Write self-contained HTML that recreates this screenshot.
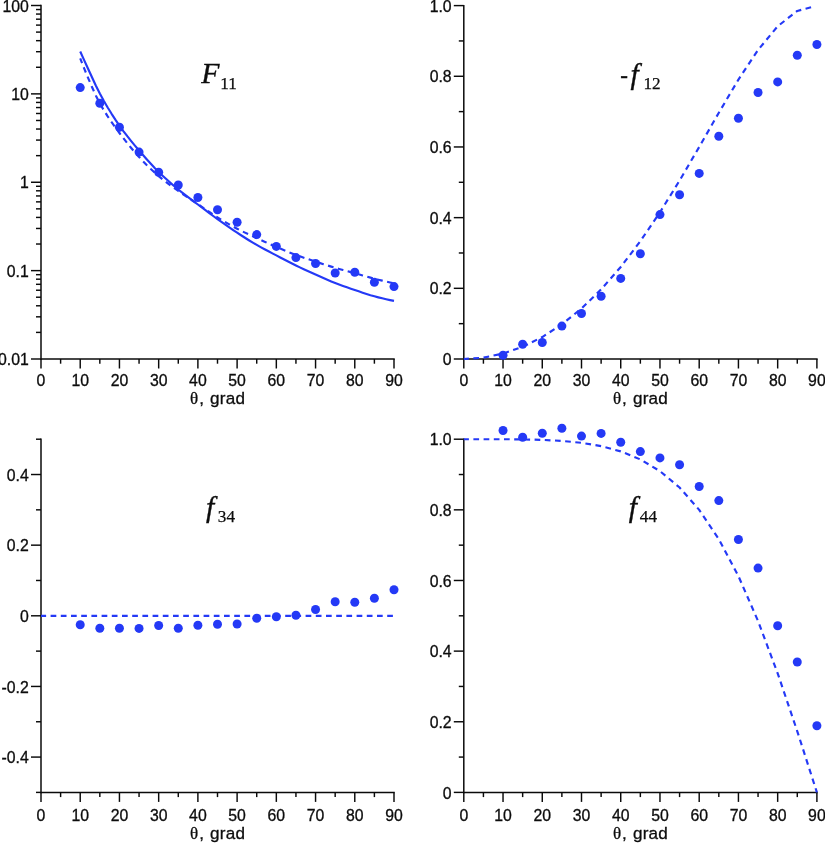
<!DOCTYPE html>
<html lang="en">
<head>
<meta charset="utf-8">
<title>Scattering matrix elements</title>
<style>
html,body{margin:0;padding:0;background:#fff;}
body{width:825px;height:843px;overflow:hidden;}
svg{display:block;}
.t{font-family:"Liberation Sans",Arial,Helvetica,sans-serif;font-size:15.8px;fill:#0c0c0c;stroke:#0c0c0c;stroke-width:0.3px;}
.a{font-family:"Liberation Sans",Arial,Helvetica,sans-serif;font-size:17.1px;letter-spacing:0.22px;fill:#0c0c0c;stroke:#0c0c0c;stroke-width:0.3px;}
.g{font-family:"Liberation Serif","Times New Roman",serif;font-size:17px;letter-spacing:0;}
.m{font-family:"Liberation Serif","Times New Roman",serif;font-size:29.8px;fill:#0c0c0c;stroke:#0c0c0c;stroke-width:0.35px;}
.i{font-style:italic;}
.f{font-size:29.6px;}
.h{font-size:23px;}
.s{font-family:"Liberation Serif","Times New Roman",serif;font-size:17.2px;fill:#0c0c0c;stroke:#0c0c0c;stroke-width:0.25px;}
</style>
</head>
<body>
<svg width="825" height="843" viewBox="0 0 825 843">
<rect width="825" height="843" fill="#fff"/>
<g id="p1">
<line x1="41" y1="4.78" x2="41" y2="359.75" stroke="#0a0a0a" stroke-width="1.5"/>
<line x1="31" y1="5.5" x2="41" y2="5.5" stroke="#0a0a0a" stroke-width="1.45"/>
<text class="t" x="28.8" y="11.6" text-anchor="end">100</text>
<line x1="31" y1="93.88" x2="41" y2="93.88" stroke="#0a0a0a" stroke-width="1.45"/>
<text class="t" x="28.8" y="99.97" text-anchor="end">10</text>
<line x1="31" y1="182.25" x2="41" y2="182.25" stroke="#0a0a0a" stroke-width="1.45"/>
<text class="t" x="28.8" y="188.35" text-anchor="end">1</text>
<line x1="31" y1="270.62" x2="41" y2="270.62" stroke="#0a0a0a" stroke-width="1.45"/>
<text class="t" x="28.8" y="276.73" text-anchor="end">0.1</text>
<line x1="31" y1="359" x2="41" y2="359" stroke="#0a0a0a" stroke-width="1.45"/>
<text class="t" x="28.8" y="365.1" text-anchor="end">0.01</text>
<line x1="36" y1="332.4" x2="41" y2="332.4" stroke="#0a0a0a" stroke-width="1.45"/>
<line x1="36" y1="316.83" x2="41" y2="316.83" stroke="#0a0a0a" stroke-width="1.45"/>
<line x1="36" y1="305.79" x2="41" y2="305.79" stroke="#0a0a0a" stroke-width="1.45"/>
<line x1="36" y1="297.23" x2="41" y2="297.23" stroke="#0a0a0a" stroke-width="1.45"/>
<line x1="36" y1="290.23" x2="41" y2="290.23" stroke="#0a0a0a" stroke-width="1.45"/>
<line x1="36" y1="284.31" x2="41" y2="284.31" stroke="#0a0a0a" stroke-width="1.45"/>
<line x1="36" y1="279.19" x2="41" y2="279.19" stroke="#0a0a0a" stroke-width="1.45"/>
<line x1="36" y1="274.67" x2="41" y2="274.67" stroke="#0a0a0a" stroke-width="1.45"/>
<line x1="36" y1="244.02" x2="41" y2="244.02" stroke="#0a0a0a" stroke-width="1.45"/>
<line x1="36" y1="228.46" x2="41" y2="228.46" stroke="#0a0a0a" stroke-width="1.45"/>
<line x1="36" y1="217.42" x2="41" y2="217.42" stroke="#0a0a0a" stroke-width="1.45"/>
<line x1="36" y1="208.85" x2="41" y2="208.85" stroke="#0a0a0a" stroke-width="1.45"/>
<line x1="36" y1="201.86" x2="41" y2="201.86" stroke="#0a0a0a" stroke-width="1.45"/>
<line x1="36" y1="195.94" x2="41" y2="195.94" stroke="#0a0a0a" stroke-width="1.45"/>
<line x1="36" y1="190.81" x2="41" y2="190.81" stroke="#0a0a0a" stroke-width="1.45"/>
<line x1="36" y1="186.29" x2="41" y2="186.29" stroke="#0a0a0a" stroke-width="1.45"/>
<line x1="36" y1="155.65" x2="41" y2="155.65" stroke="#0a0a0a" stroke-width="1.45"/>
<line x1="36" y1="140.08" x2="41" y2="140.08" stroke="#0a0a0a" stroke-width="1.45"/>
<line x1="36" y1="129.04" x2="41" y2="129.04" stroke="#0a0a0a" stroke-width="1.45"/>
<line x1="36" y1="120.48" x2="41" y2="120.48" stroke="#0a0a0a" stroke-width="1.45"/>
<line x1="36" y1="113.48" x2="41" y2="113.48" stroke="#0a0a0a" stroke-width="1.45"/>
<line x1="36" y1="107.56" x2="41" y2="107.56" stroke="#0a0a0a" stroke-width="1.45"/>
<line x1="36" y1="102.44" x2="41" y2="102.44" stroke="#0a0a0a" stroke-width="1.45"/>
<line x1="36" y1="97.92" x2="41" y2="97.92" stroke="#0a0a0a" stroke-width="1.45"/>
<line x1="36" y1="67.27" x2="41" y2="67.27" stroke="#0a0a0a" stroke-width="1.45"/>
<line x1="36" y1="51.71" x2="41" y2="51.71" stroke="#0a0a0a" stroke-width="1.45"/>
<line x1="36" y1="40.67" x2="41" y2="40.67" stroke="#0a0a0a" stroke-width="1.45"/>
<line x1="36" y1="32.1" x2="41" y2="32.1" stroke="#0a0a0a" stroke-width="1.45"/>
<line x1="36" y1="25.11" x2="41" y2="25.11" stroke="#0a0a0a" stroke-width="1.45"/>
<line x1="36" y1="19.19" x2="41" y2="19.19" stroke="#0a0a0a" stroke-width="1.45"/>
<line x1="36" y1="14.06" x2="41" y2="14.06" stroke="#0a0a0a" stroke-width="1.45"/>
<line x1="36" y1="9.54" x2="41" y2="9.54" stroke="#0a0a0a" stroke-width="1.45"/>
<line x1="41" y1="359" x2="394.75" y2="359" stroke="#0a0a0a" stroke-width="1.5"/>
<line x1="41" y1="359" x2="41" y2="368.5" stroke="#0a0a0a" stroke-width="1.45"/>
<text class="t" x="41" y="386.2" text-anchor="middle">0</text>
<line x1="60.61" y1="359" x2="60.61" y2="363.7" stroke="#0a0a0a" stroke-width="1.45"/>
<line x1="80.22" y1="359" x2="80.22" y2="368.5" stroke="#0a0a0a" stroke-width="1.45"/>
<text class="t" x="80.22" y="386.2" text-anchor="middle">10</text>
<line x1="99.83" y1="359" x2="99.83" y2="363.7" stroke="#0a0a0a" stroke-width="1.45"/>
<line x1="119.44" y1="359" x2="119.44" y2="368.5" stroke="#0a0a0a" stroke-width="1.45"/>
<text class="t" x="119.44" y="386.2" text-anchor="middle">20</text>
<line x1="139.06" y1="359" x2="139.06" y2="363.7" stroke="#0a0a0a" stroke-width="1.45"/>
<line x1="158.67" y1="359" x2="158.67" y2="368.5" stroke="#0a0a0a" stroke-width="1.45"/>
<text class="t" x="158.67" y="386.2" text-anchor="middle">30</text>
<line x1="178.28" y1="359" x2="178.28" y2="363.7" stroke="#0a0a0a" stroke-width="1.45"/>
<line x1="197.89" y1="359" x2="197.89" y2="368.5" stroke="#0a0a0a" stroke-width="1.45"/>
<text class="t" x="197.89" y="386.2" text-anchor="middle">40</text>
<line x1="217.5" y1="359" x2="217.5" y2="363.7" stroke="#0a0a0a" stroke-width="1.45"/>
<line x1="237.11" y1="359" x2="237.11" y2="368.5" stroke="#0a0a0a" stroke-width="1.45"/>
<text class="t" x="237.11" y="386.2" text-anchor="middle">50</text>
<line x1="256.72" y1="359" x2="256.72" y2="363.7" stroke="#0a0a0a" stroke-width="1.45"/>
<line x1="276.33" y1="359" x2="276.33" y2="368.5" stroke="#0a0a0a" stroke-width="1.45"/>
<text class="t" x="276.33" y="386.2" text-anchor="middle">60</text>
<line x1="295.94" y1="359" x2="295.94" y2="363.7" stroke="#0a0a0a" stroke-width="1.45"/>
<line x1="315.56" y1="359" x2="315.56" y2="368.5" stroke="#0a0a0a" stroke-width="1.45"/>
<text class="t" x="315.56" y="386.2" text-anchor="middle">70</text>
<line x1="335.17" y1="359" x2="335.17" y2="363.7" stroke="#0a0a0a" stroke-width="1.45"/>
<line x1="354.78" y1="359" x2="354.78" y2="368.5" stroke="#0a0a0a" stroke-width="1.45"/>
<text class="t" x="354.78" y="386.2" text-anchor="middle">80</text>
<line x1="374.39" y1="359" x2="374.39" y2="363.7" stroke="#0a0a0a" stroke-width="1.45"/>
<line x1="394" y1="359" x2="394" y2="368.5" stroke="#0a0a0a" stroke-width="1.45"/>
<text class="t" x="394" y="386.2" text-anchor="middle">90</text>
<text class="a" x="190.1" y="404.1"><tspan class="g">θ</tspan><tspan dx="1.0">,</tspan><tspan dx="0.9"> grad</tspan></text>
<text class="m i" x="201.2" y="83">F</text>
<text class="s" x="220.2" y="89">11</text>
<path d="M80.22,51.5 L84.14,60.18 L88.07,68.72 L91.99,77.21 L95.91,85.72 L99.83,93.6 L103.76,100.71 L107.68,107.44 L111.6,113.81 L115.52,119.86 L119.44,125.6 L123.37,131.04 L127.29,136.19 L131.21,141.11 L135.13,145.86 L139.06,150.5 L142.98,155.05 L146.9,159.49 L150.82,163.8 L154.74,167.94 L158.67,171.9 L162.59,175.68 L166.51,179.32 L170.43,182.83 L174.36,186.21 L178.28,189.5 L182.2,192.66 L186.12,195.69 L190.04,198.64 L193.97,201.56 L197.89,204.5 L201.81,207.46 L205.73,210.42 L209.66,213.35 L213.58,216.25 L217.5,219.1 L221.42,221.91 L225.34,224.68 L229.27,227.41 L233.19,230.09 L237.11,232.7 L241.03,235.25 L244.96,237.76 L248.88,240.22 L252.8,242.6 L256.72,244.9 L260.64,247.11 L264.57,249.23 L268.49,251.3 L272.41,253.35 L276.33,255.4 L280.26,257.46 L284.18,259.52 L288.1,261.55 L292.02,263.55 L295.94,265.5 L299.87,267.39 L303.79,269.24 L307.71,271.06 L311.63,272.84 L315.56,274.6 L319.48,276.35 L323.4,278.08 L327.32,279.78 L331.24,281.43 L335.17,283 L339.09,284.49 L343.01,285.93 L346.93,287.31 L350.86,288.67 L354.78,290 L358.7,291.33 L362.62,292.66 L366.54,293.95 L370.47,295.18 L374.39,296.3 L378.31,297.34 L382.23,298.32 L386.16,299.25 L390.08,300.11 L394,300.9" fill="none" stroke="#2439f6" stroke-width="2.15" stroke-linejoin="round"/>
<path d="M80.22,58.3 L84.14,68.39 L88.07,77.94 L91.99,86.98 L95.91,95.65 L99.83,103.4 L103.76,110.15 L107.68,116.36 L111.6,122.16 L115.52,127.66 L119.44,133 L123.37,138.21 L127.29,143.22 L131.21,148.03 L135.13,152.63 L139.06,157 L142.98,161.17 L146.9,165.18 L150.82,169.01 L154.74,172.65 L158.67,176.1 L162.59,179.35 L166.51,182.42 L170.43,185.35 L174.36,188.2 L178.28,191 L182.2,193.72 L186.12,196.35 L190.04,198.93 L193.97,201.49 L197.89,204.1 L201.81,206.78 L205.73,209.51 L209.66,212.23 L213.58,214.88 L217.5,217.4 L221.42,219.81 L225.34,222.15 L229.27,224.42 L233.19,226.6 L237.11,228.7 L241.03,230.7 L244.96,232.61 L248.88,234.47 L252.8,236.29 L256.72,238.1 L260.64,239.91 L264.57,241.7 L268.49,243.47 L272.41,245.2 L276.33,246.9 L280.26,248.57 L284.18,250.22 L288.1,251.84 L292.02,253.4 L295.94,254.9 L299.87,256.32 L303.79,257.69 L307.71,259.01 L311.63,260.31 L315.56,261.6 L319.48,262.88 L323.4,264.16 L327.32,265.4 L331.24,266.62 L335.17,267.8 L339.09,268.93 L343.01,270.01 L346.93,271.07 L350.86,272.13 L354.78,273.2 L358.7,274.31 L362.62,275.44 L366.54,276.57 L370.47,277.66 L374.39,278.7 L378.31,279.69 L382.23,280.64 L386.16,281.56 L390.08,282.45 L394,283.3" fill="none" stroke="#2439f6" stroke-width="2.15" stroke-linejoin="round" stroke-dasharray="5.7 4.5" stroke-dashoffset="0.6"/>
<circle cx="80.22" cy="87.6" r="4.5" fill="#2439f6"/>
<circle cx="99.83" cy="103.2" r="4.5" fill="#2439f6"/>
<circle cx="119.44" cy="127.2" r="4.5" fill="#2439f6"/>
<circle cx="139.06" cy="152.1" r="4.5" fill="#2439f6"/>
<circle cx="158.67" cy="172.2" r="4.5" fill="#2439f6"/>
<circle cx="178.28" cy="185" r="4.5" fill="#2439f6"/>
<circle cx="197.89" cy="197.5" r="4.5" fill="#2439f6"/>
<circle cx="217.5" cy="209.7" r="4.5" fill="#2439f6"/>
<circle cx="237.11" cy="222.2" r="4.5" fill="#2439f6"/>
<circle cx="256.72" cy="234.6" r="4.5" fill="#2439f6"/>
<circle cx="276.33" cy="246.4" r="4.5" fill="#2439f6"/>
<circle cx="295.94" cy="257.6" r="4.5" fill="#2439f6"/>
<circle cx="315.56" cy="263.5" r="4.5" fill="#2439f6"/>
<circle cx="335.17" cy="273" r="4.5" fill="#2439f6"/>
<circle cx="354.78" cy="272.2" r="4.5" fill="#2439f6"/>
<circle cx="374.39" cy="282.3" r="4.5" fill="#2439f6"/>
<circle cx="394" cy="286.6" r="4.5" fill="#2439f6"/>
</g>
<g id="p2">
<line x1="463.8" y1="4.88" x2="463.8" y2="359.75" stroke="#0a0a0a" stroke-width="1.5"/>
<line x1="453.8" y1="5.6" x2="463.8" y2="5.6" stroke="#0a0a0a" stroke-width="1.45"/>
<text class="t" x="451.6" y="11.7" text-anchor="end">1.0</text>
<line x1="453.8" y1="76.28" x2="463.8" y2="76.28" stroke="#0a0a0a" stroke-width="1.45"/>
<text class="t" x="451.6" y="82.38" text-anchor="end">0.8</text>
<line x1="453.8" y1="146.96" x2="463.8" y2="146.96" stroke="#0a0a0a" stroke-width="1.45"/>
<text class="t" x="451.6" y="153.06" text-anchor="end">0.6</text>
<line x1="453.8" y1="217.64" x2="463.8" y2="217.64" stroke="#0a0a0a" stroke-width="1.45"/>
<text class="t" x="451.6" y="223.74" text-anchor="end">0.4</text>
<line x1="453.8" y1="288.32" x2="463.8" y2="288.32" stroke="#0a0a0a" stroke-width="1.45"/>
<text class="t" x="451.6" y="294.42" text-anchor="end">0.2</text>
<line x1="453.8" y1="359" x2="463.8" y2="359" stroke="#0a0a0a" stroke-width="1.45"/>
<text class="t" x="451.6" y="365.1" text-anchor="end">0</text>
<line x1="458.8" y1="323.66" x2="463.8" y2="323.66" stroke="#0a0a0a" stroke-width="1.45"/>
<line x1="458.8" y1="252.98" x2="463.8" y2="252.98" stroke="#0a0a0a" stroke-width="1.45"/>
<line x1="458.8" y1="182.3" x2="463.8" y2="182.3" stroke="#0a0a0a" stroke-width="1.45"/>
<line x1="458.8" y1="111.62" x2="463.8" y2="111.62" stroke="#0a0a0a" stroke-width="1.45"/>
<line x1="458.8" y1="40.94" x2="463.8" y2="40.94" stroke="#0a0a0a" stroke-width="1.45"/>
<line x1="463.8" y1="359" x2="817.65" y2="359" stroke="#0a0a0a" stroke-width="1.5"/>
<line x1="463.8" y1="359" x2="463.8" y2="368.5" stroke="#0a0a0a" stroke-width="1.45"/>
<text class="t" x="463.8" y="386.2" text-anchor="middle">0</text>
<line x1="483.42" y1="359" x2="483.42" y2="363.7" stroke="#0a0a0a" stroke-width="1.45"/>
<line x1="503.03" y1="359" x2="503.03" y2="368.5" stroke="#0a0a0a" stroke-width="1.45"/>
<text class="t" x="503.03" y="386.2" text-anchor="middle">10</text>
<line x1="522.65" y1="359" x2="522.65" y2="363.7" stroke="#0a0a0a" stroke-width="1.45"/>
<line x1="542.27" y1="359" x2="542.27" y2="368.5" stroke="#0a0a0a" stroke-width="1.45"/>
<text class="t" x="542.27" y="386.2" text-anchor="middle">20</text>
<line x1="561.88" y1="359" x2="561.88" y2="363.7" stroke="#0a0a0a" stroke-width="1.45"/>
<line x1="581.5" y1="359" x2="581.5" y2="368.5" stroke="#0a0a0a" stroke-width="1.45"/>
<text class="t" x="581.5" y="386.2" text-anchor="middle">30</text>
<line x1="601.12" y1="359" x2="601.12" y2="363.7" stroke="#0a0a0a" stroke-width="1.45"/>
<line x1="620.73" y1="359" x2="620.73" y2="368.5" stroke="#0a0a0a" stroke-width="1.45"/>
<text class="t" x="620.73" y="386.2" text-anchor="middle">40</text>
<line x1="640.35" y1="359" x2="640.35" y2="363.7" stroke="#0a0a0a" stroke-width="1.45"/>
<line x1="659.97" y1="359" x2="659.97" y2="368.5" stroke="#0a0a0a" stroke-width="1.45"/>
<text class="t" x="659.97" y="386.2" text-anchor="middle">50</text>
<line x1="679.58" y1="359" x2="679.58" y2="363.7" stroke="#0a0a0a" stroke-width="1.45"/>
<line x1="699.2" y1="359" x2="699.2" y2="368.5" stroke="#0a0a0a" stroke-width="1.45"/>
<text class="t" x="699.2" y="386.2" text-anchor="middle">60</text>
<line x1="718.82" y1="359" x2="718.82" y2="363.7" stroke="#0a0a0a" stroke-width="1.45"/>
<line x1="738.43" y1="359" x2="738.43" y2="368.5" stroke="#0a0a0a" stroke-width="1.45"/>
<text class="t" x="738.43" y="386.2" text-anchor="middle">70</text>
<line x1="758.05" y1="359" x2="758.05" y2="363.7" stroke="#0a0a0a" stroke-width="1.45"/>
<line x1="777.67" y1="359" x2="777.67" y2="368.5" stroke="#0a0a0a" stroke-width="1.45"/>
<text class="t" x="777.67" y="386.2" text-anchor="middle">80</text>
<line x1="797.28" y1="359" x2="797.28" y2="363.7" stroke="#0a0a0a" stroke-width="1.45"/>
<line x1="816.9" y1="359" x2="816.9" y2="368.5" stroke="#0a0a0a" stroke-width="1.45"/>
<text class="t" x="816.9" y="386.2" text-anchor="middle">90</text>
<text class="a" x="612.95" y="404.1"><tspan class="g">θ</tspan><tspan dx="1.0">,</tspan><tspan dx="0.9"> grad</tspan></text>
<text class="m h" x="620.2" y="82.7">-</text>
<text class="m i f" x="630.4" y="84.3">f</text>
<text class="s" x="643.4" y="89.4">12</text>
<path d="M463.8,359 L483.42,357.65 L503.03,353.59 L522.65,346.75 L542.27,337.05 L561.88,324.35 L581.5,308.51 L601.12,289.42 L620.73,266.98 L640.35,241.2 L659.97,212.25 L679.58,180.57 L699.2,146.96 L718.82,112.71 L738.43,79.62 L758.05,49.97 L777.67,26.29 L797.28,10.93 L812.3,6.85" fill="none" stroke="#2439f6" stroke-width="2.15" stroke-linejoin="round" stroke-dasharray="5.7 4.5" stroke-dashoffset="0.6"/>
<circle cx="503.03" cy="355.2" r="4.5" fill="#2439f6"/>
<circle cx="522.65" cy="344.3" r="4.5" fill="#2439f6"/>
<circle cx="542.27" cy="342.5" r="4.5" fill="#2439f6"/>
<circle cx="561.88" cy="326.1" r="4.5" fill="#2439f6"/>
<circle cx="581.5" cy="313.5" r="4.5" fill="#2439f6"/>
<circle cx="601.12" cy="296.3" r="4.5" fill="#2439f6"/>
<circle cx="620.73" cy="278.4" r="4.5" fill="#2439f6"/>
<circle cx="640.35" cy="253.7" r="4.5" fill="#2439f6"/>
<circle cx="659.97" cy="214.6" r="4.5" fill="#2439f6"/>
<circle cx="679.58" cy="194.7" r="4.5" fill="#2439f6"/>
<circle cx="699.2" cy="173.4" r="4.5" fill="#2439f6"/>
<circle cx="718.82" cy="136.2" r="4.5" fill="#2439f6"/>
<circle cx="738.43" cy="118.3" r="4.5" fill="#2439f6"/>
<circle cx="758.05" cy="92.5" r="4.5" fill="#2439f6"/>
<circle cx="777.67" cy="81.9" r="4.5" fill="#2439f6"/>
<circle cx="797.28" cy="55.2" r="4.5" fill="#2439f6"/>
<circle cx="816.9" cy="44.5" r="4.5" fill="#2439f6"/>
</g>
<g id="p3">
<line x1="41" y1="438.47" x2="41" y2="793.15" stroke="#0a0a0a" stroke-width="1.5"/>
<line x1="31" y1="474.52" x2="41" y2="474.52" stroke="#0a0a0a" stroke-width="1.45"/>
<text class="t" x="28.8" y="480.62" text-anchor="end">0.4</text>
<line x1="31" y1="545.16" x2="41" y2="545.16" stroke="#0a0a0a" stroke-width="1.45"/>
<text class="t" x="28.8" y="551.26" text-anchor="end">0.2</text>
<line x1="31" y1="615.8" x2="41" y2="615.8" stroke="#0a0a0a" stroke-width="1.45"/>
<text class="t" x="28.8" y="621.9" text-anchor="end">0</text>
<line x1="31" y1="686.44" x2="41" y2="686.44" stroke="#0a0a0a" stroke-width="1.45"/>
<text class="t" x="28.8" y="692.54" text-anchor="end">-0.2</text>
<line x1="31" y1="757.08" x2="41" y2="757.08" stroke="#0a0a0a" stroke-width="1.45"/>
<text class="t" x="28.8" y="763.18" text-anchor="end">-0.4</text>
<line x1="36" y1="439.2" x2="41" y2="439.2" stroke="#0a0a0a" stroke-width="1.45"/>
<line x1="36" y1="509.84" x2="41" y2="509.84" stroke="#0a0a0a" stroke-width="1.45"/>
<line x1="36" y1="580.48" x2="41" y2="580.48" stroke="#0a0a0a" stroke-width="1.45"/>
<line x1="36" y1="651.12" x2="41" y2="651.12" stroke="#0a0a0a" stroke-width="1.45"/>
<line x1="36" y1="721.76" x2="41" y2="721.76" stroke="#0a0a0a" stroke-width="1.45"/>
<line x1="36" y1="792.4" x2="41" y2="792.4" stroke="#0a0a0a" stroke-width="1.45"/>
<line x1="41" y1="792.4" x2="394.75" y2="792.4" stroke="#0a0a0a" stroke-width="1.5"/>
<line x1="41" y1="792.4" x2="41" y2="801.9" stroke="#0a0a0a" stroke-width="1.45"/>
<text class="t" x="41" y="821.1" text-anchor="middle">0</text>
<line x1="60.61" y1="792.4" x2="60.61" y2="797.1" stroke="#0a0a0a" stroke-width="1.45"/>
<line x1="80.22" y1="792.4" x2="80.22" y2="801.9" stroke="#0a0a0a" stroke-width="1.45"/>
<text class="t" x="80.22" y="821.1" text-anchor="middle">10</text>
<line x1="99.83" y1="792.4" x2="99.83" y2="797.1" stroke="#0a0a0a" stroke-width="1.45"/>
<line x1="119.44" y1="792.4" x2="119.44" y2="801.9" stroke="#0a0a0a" stroke-width="1.45"/>
<text class="t" x="119.44" y="821.1" text-anchor="middle">20</text>
<line x1="139.06" y1="792.4" x2="139.06" y2="797.1" stroke="#0a0a0a" stroke-width="1.45"/>
<line x1="158.67" y1="792.4" x2="158.67" y2="801.9" stroke="#0a0a0a" stroke-width="1.45"/>
<text class="t" x="158.67" y="821.1" text-anchor="middle">30</text>
<line x1="178.28" y1="792.4" x2="178.28" y2="797.1" stroke="#0a0a0a" stroke-width="1.45"/>
<line x1="197.89" y1="792.4" x2="197.89" y2="801.9" stroke="#0a0a0a" stroke-width="1.45"/>
<text class="t" x="197.89" y="821.1" text-anchor="middle">40</text>
<line x1="217.5" y1="792.4" x2="217.5" y2="797.1" stroke="#0a0a0a" stroke-width="1.45"/>
<line x1="237.11" y1="792.4" x2="237.11" y2="801.9" stroke="#0a0a0a" stroke-width="1.45"/>
<text class="t" x="237.11" y="821.1" text-anchor="middle">50</text>
<line x1="256.72" y1="792.4" x2="256.72" y2="797.1" stroke="#0a0a0a" stroke-width="1.45"/>
<line x1="276.33" y1="792.4" x2="276.33" y2="801.9" stroke="#0a0a0a" stroke-width="1.45"/>
<text class="t" x="276.33" y="821.1" text-anchor="middle">60</text>
<line x1="295.94" y1="792.4" x2="295.94" y2="797.1" stroke="#0a0a0a" stroke-width="1.45"/>
<line x1="315.56" y1="792.4" x2="315.56" y2="801.9" stroke="#0a0a0a" stroke-width="1.45"/>
<text class="t" x="315.56" y="821.1" text-anchor="middle">70</text>
<line x1="335.17" y1="792.4" x2="335.17" y2="797.1" stroke="#0a0a0a" stroke-width="1.45"/>
<line x1="354.78" y1="792.4" x2="354.78" y2="801.9" stroke="#0a0a0a" stroke-width="1.45"/>
<text class="t" x="354.78" y="821.1" text-anchor="middle">80</text>
<line x1="374.39" y1="792.4" x2="374.39" y2="797.1" stroke="#0a0a0a" stroke-width="1.45"/>
<line x1="394" y1="792.4" x2="394" y2="801.9" stroke="#0a0a0a" stroke-width="1.45"/>
<text class="t" x="394" y="821.1" text-anchor="middle">90</text>
<text class="a" x="190.1" y="839"><tspan class="g">θ</tspan><tspan dx="1.0">,</tspan><tspan dx="0.9"> grad</tspan></text>
<text class="m i f" x="206" y="517.3">f</text>
<text class="s" x="217.8" y="522.4">34</text>
<path d="M41,615.8 L394,615.8" fill="none" stroke="#2439f6" stroke-width="2.15" stroke-linejoin="round" stroke-dasharray="5.7 4.5" stroke-dashoffset="0.6"/>
<circle cx="80.22" cy="624.8" r="4.5" fill="#2439f6"/>
<circle cx="99.83" cy="628.2" r="4.5" fill="#2439f6"/>
<circle cx="119.44" cy="628.2" r="4.5" fill="#2439f6"/>
<circle cx="139.06" cy="628.4" r="4.5" fill="#2439f6"/>
<circle cx="158.67" cy="625.5" r="4.5" fill="#2439f6"/>
<circle cx="178.28" cy="628.2" r="4.5" fill="#2439f6"/>
<circle cx="197.89" cy="625.3" r="4.5" fill="#2439f6"/>
<circle cx="217.5" cy="624.3" r="4.5" fill="#2439f6"/>
<circle cx="237.11" cy="624" r="4.5" fill="#2439f6"/>
<circle cx="256.72" cy="618.2" r="4.5" fill="#2439f6"/>
<circle cx="276.33" cy="616.7" r="4.5" fill="#2439f6"/>
<circle cx="295.94" cy="615.3" r="4.5" fill="#2439f6"/>
<circle cx="315.56" cy="609.5" r="4.5" fill="#2439f6"/>
<circle cx="335.17" cy="601.7" r="4.5" fill="#2439f6"/>
<circle cx="354.78" cy="602.2" r="4.5" fill="#2439f6"/>
<circle cx="374.39" cy="598.3" r="4.5" fill="#2439f6"/>
<circle cx="394" cy="589.8" r="4.5" fill="#2439f6"/>
</g>
<g id="p4">
<line x1="463.8" y1="438.47" x2="463.8" y2="793.15" stroke="#0a0a0a" stroke-width="1.5"/>
<line x1="453.8" y1="439.2" x2="463.8" y2="439.2" stroke="#0a0a0a" stroke-width="1.45"/>
<text class="t" x="451.6" y="445.3" text-anchor="end">1.0</text>
<line x1="453.8" y1="509.84" x2="463.8" y2="509.84" stroke="#0a0a0a" stroke-width="1.45"/>
<text class="t" x="451.6" y="515.94" text-anchor="end">0.8</text>
<line x1="453.8" y1="580.48" x2="463.8" y2="580.48" stroke="#0a0a0a" stroke-width="1.45"/>
<text class="t" x="451.6" y="586.58" text-anchor="end">0.6</text>
<line x1="453.8" y1="651.12" x2="463.8" y2="651.12" stroke="#0a0a0a" stroke-width="1.45"/>
<text class="t" x="451.6" y="657.22" text-anchor="end">0.4</text>
<line x1="453.8" y1="721.76" x2="463.8" y2="721.76" stroke="#0a0a0a" stroke-width="1.45"/>
<text class="t" x="451.6" y="727.86" text-anchor="end">0.2</text>
<line x1="453.8" y1="792.4" x2="463.8" y2="792.4" stroke="#0a0a0a" stroke-width="1.45"/>
<text class="t" x="451.6" y="798.5" text-anchor="end">0</text>
<line x1="458.8" y1="757.08" x2="463.8" y2="757.08" stroke="#0a0a0a" stroke-width="1.45"/>
<line x1="458.8" y1="686.44" x2="463.8" y2="686.44" stroke="#0a0a0a" stroke-width="1.45"/>
<line x1="458.8" y1="615.8" x2="463.8" y2="615.8" stroke="#0a0a0a" stroke-width="1.45"/>
<line x1="458.8" y1="545.16" x2="463.8" y2="545.16" stroke="#0a0a0a" stroke-width="1.45"/>
<line x1="458.8" y1="474.52" x2="463.8" y2="474.52" stroke="#0a0a0a" stroke-width="1.45"/>
<line x1="463.8" y1="792.4" x2="817.65" y2="792.4" stroke="#0a0a0a" stroke-width="1.5"/>
<line x1="463.8" y1="792.4" x2="463.8" y2="801.9" stroke="#0a0a0a" stroke-width="1.45"/>
<text class="t" x="463.8" y="821.1" text-anchor="middle">0</text>
<line x1="483.42" y1="792.4" x2="483.42" y2="797.1" stroke="#0a0a0a" stroke-width="1.45"/>
<line x1="503.03" y1="792.4" x2="503.03" y2="801.9" stroke="#0a0a0a" stroke-width="1.45"/>
<text class="t" x="503.03" y="821.1" text-anchor="middle">10</text>
<line x1="522.65" y1="792.4" x2="522.65" y2="797.1" stroke="#0a0a0a" stroke-width="1.45"/>
<line x1="542.27" y1="792.4" x2="542.27" y2="801.9" stroke="#0a0a0a" stroke-width="1.45"/>
<text class="t" x="542.27" y="821.1" text-anchor="middle">20</text>
<line x1="561.88" y1="792.4" x2="561.88" y2="797.1" stroke="#0a0a0a" stroke-width="1.45"/>
<line x1="581.5" y1="792.4" x2="581.5" y2="801.9" stroke="#0a0a0a" stroke-width="1.45"/>
<text class="t" x="581.5" y="821.1" text-anchor="middle">30</text>
<line x1="601.12" y1="792.4" x2="601.12" y2="797.1" stroke="#0a0a0a" stroke-width="1.45"/>
<line x1="620.73" y1="792.4" x2="620.73" y2="801.9" stroke="#0a0a0a" stroke-width="1.45"/>
<text class="t" x="620.73" y="821.1" text-anchor="middle">40</text>
<line x1="640.35" y1="792.4" x2="640.35" y2="797.1" stroke="#0a0a0a" stroke-width="1.45"/>
<line x1="659.97" y1="792.4" x2="659.97" y2="801.9" stroke="#0a0a0a" stroke-width="1.45"/>
<text class="t" x="659.97" y="821.1" text-anchor="middle">50</text>
<line x1="679.58" y1="792.4" x2="679.58" y2="797.1" stroke="#0a0a0a" stroke-width="1.45"/>
<line x1="699.2" y1="792.4" x2="699.2" y2="801.9" stroke="#0a0a0a" stroke-width="1.45"/>
<text class="t" x="699.2" y="821.1" text-anchor="middle">60</text>
<line x1="718.82" y1="792.4" x2="718.82" y2="797.1" stroke="#0a0a0a" stroke-width="1.45"/>
<line x1="738.43" y1="792.4" x2="738.43" y2="801.9" stroke="#0a0a0a" stroke-width="1.45"/>
<text class="t" x="738.43" y="821.1" text-anchor="middle">70</text>
<line x1="758.05" y1="792.4" x2="758.05" y2="797.1" stroke="#0a0a0a" stroke-width="1.45"/>
<line x1="777.67" y1="792.4" x2="777.67" y2="801.9" stroke="#0a0a0a" stroke-width="1.45"/>
<text class="t" x="777.67" y="821.1" text-anchor="middle">80</text>
<line x1="797.28" y1="792.4" x2="797.28" y2="797.1" stroke="#0a0a0a" stroke-width="1.45"/>
<line x1="816.9" y1="792.4" x2="816.9" y2="801.9" stroke="#0a0a0a" stroke-width="1.45"/>
<text class="t" x="816.9" y="821.1" text-anchor="middle">90</text>
<text class="a" x="612.95" y="839"><tspan class="g">θ</tspan><tspan dx="1.0">,</tspan><tspan dx="0.9"> grad</tspan></text>
<text class="m i f" x="628.8" y="517.3">f</text>
<text class="s" x="639.8" y="522.4">44</text>
<path d="M463.8,439.2 L483.42,439.2 L503.03,439.24 L522.65,439.41 L542.27,439.88 L561.88,440.9 L581.5,442.82 L601.12,446.11 L620.73,451.38 L640.35,459.4 L659.97,471.09 L679.58,487.53 L699.2,509.84 L718.82,539.1 L738.43,576.1 L758.05,621.05 L777.67,673.33 L797.28,731.3 L816.9,792.4" fill="none" stroke="#2439f6" stroke-width="2.15" stroke-linejoin="round" stroke-dasharray="5.7 4.5" stroke-dashoffset="0.6"/>
<circle cx="503.03" cy="430.5" r="4.5" fill="#2439f6"/>
<circle cx="522.65" cy="437.3" r="4.5" fill="#2439f6"/>
<circle cx="542.27" cy="433.2" r="4.5" fill="#2439f6"/>
<circle cx="561.88" cy="428.3" r="4.5" fill="#2439f6"/>
<circle cx="581.5" cy="436.1" r="4.5" fill="#2439f6"/>
<circle cx="601.12" cy="433.4" r="4.5" fill="#2439f6"/>
<circle cx="620.73" cy="442.2" r="4.5" fill="#2439f6"/>
<circle cx="640.35" cy="451.6" r="4.5" fill="#2439f6"/>
<circle cx="659.97" cy="457.9" r="4.5" fill="#2439f6"/>
<circle cx="679.58" cy="464.8" r="4.5" fill="#2439f6"/>
<circle cx="699.2" cy="486.5" r="4.5" fill="#2439f6"/>
<circle cx="718.82" cy="500.6" r="4.5" fill="#2439f6"/>
<circle cx="738.43" cy="539.5" r="4.5" fill="#2439f6"/>
<circle cx="758.05" cy="568.1" r="4.5" fill="#2439f6"/>
<circle cx="777.67" cy="625.7" r="4.5" fill="#2439f6"/>
<circle cx="797.28" cy="662" r="4.5" fill="#2439f6"/>
<circle cx="816.9" cy="725.7" r="4.5" fill="#2439f6"/>
</g>
</svg>
</body>
</html>
